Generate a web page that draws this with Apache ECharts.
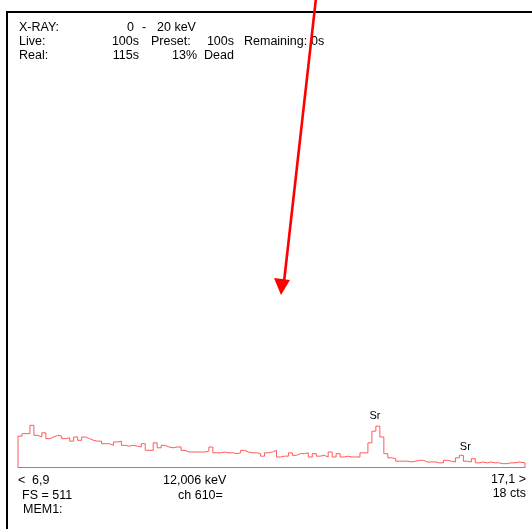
<!DOCTYPE html>
<html>
<head>
<meta charset="utf-8">
<script src="https://cdn.jsdelivr.net/npm/echarts@6/dist/echarts.min.js"></script>
<style>
html,body{margin:0;padding:0;background:#fff;}
#c{width:532px;height:529px;}
</style>
</head>
<body>
<div id="c"></div>
<script>
// ---- data ----
const xMin = 6.9;          // keV, left end of display
const xMax = 17.1;         // keV, right end of display
const binWidth = 0.08;     // keV per displayed bin
const fullScale = 511;     // FS counts
const counts = [
  37,40,40,50,38,36,41,34,36,38,
  37,34,35,31,36,32,36,34,32,31,
  31,28,28,26,30,31,26,25,26,25,
  24,28,20,20,29,23,26,24,23,24,
  24,20,18,18,18,18,18,19,24,17,
  17,18,17,17,16,17,20,18,17,17,
  16,13,17,18,20,12,13,13,17,14,
  16,16,17,12,16,13,14,12,18,12,
  16,12,13,12,12,12,17,17,29,43,
  49,36,16,11,10,7,7,7,6,7,
  8,8,6,6,6,5,5,8,7,6,
  11,14,7,6,10,5,6,5,6,5,
  5,4,4,5,5,6,5
];
const peakLabels = ['Sr', 'Sr'];
const peakEnergies = [14.08, 15.90];
const peakCounts = [49, 11];
const header = {
  mode: 'X-RAY:', rangeLo: '0', rangeHi: '20 keV',
  live: '100s', preset: '100s', remaining: '0s',
  real: '115s', dead: '13%'
};
const footer = {
  cursor: '12,006 keV', fs: 'FS = 511', ch: 'ch 610=', cts: '18 cts', mem: 'MEM1:'
};

// ---- build ----
const spec = [[xMin, 0]];
counts.forEach((c, i) => spec.push([+(xMin + i * binWidth).toFixed(3), c]));
spec.push([xMax, 0]);

const red = '#ff5a5a';
const font = '"Liberation Sans", Arial, sans-serif';
const fs = 12.5;
function t(text, x, y, align) {
  return {type: 'text', x: x, y: y, z: 50,
    style: {text: text, fill: '#000', font: fs + 'px ' + font, align: align || 'left', verticalAlign: 'middle'}};
}
const comma = v => String(v).replace('.', ',');

const chart = echarts.init(document.getElementById('c'), null, {renderer: 'canvas'});
chart.setOption({
  backgroundColor: '#fff',
  animation: false,
  grid: {left: 18, right: 7, top: 41, bottom: 62},
  xAxis: {
    type: 'value', min: xMin, max: xMax,
    axisLine: {show: true, onZero: false, lineStyle: {color: red, width: 1}},
    axisTick: {show: false}, axisLabel: {show: false}, splitLine: {show: false}
  },
  yAxis: {type: 'value', min: 0, max: fullScale, show: false, splitLine: {show: false}},
  series: [{
    type: 'line', step: 'end', symbol: 'none', data: spec,
    lineStyle: {color: red, width: 1},
    markPoint: {
      symbol: 'circle', symbolSize: 0,
      label: {show: true, position: 'top', distance: 5, color: '#000', fontSize: 11, fontFamily: font,
        formatter: p => p.name},
      data: peakLabels.map((n, i) => ({name: n, coord: [peakEnergies[i], peakCounts[i]]}))
    }
  }],
  graphic: [
    // frame
    {type: 'line', z: 40, shape: {x1: 7, y1: 12, x2: 532, y2: 12}, style: {stroke: '#000', lineWidth: 2}},
    {type: 'line', z: 40, shape: {x1: 7, y1: 11, x2: 7, y2: 529}, style: {stroke: '#000', lineWidth: 2}},
    // header
    t(header.mode, 19, 28),
    t(header.rangeLo, 127, 28),
    t('-', 142, 28),
    t(header.rangeHi, 157, 28),
    t('Live:', 19, 42),
    t(header.live, 139, 42, 'right'),
    t('Preset:', 151, 42),
    t(header.preset, 234, 42, 'right'),
    t('Remaining:', 244, 42),
    t(header.remaining, 311, 42),
    t('Real:', 19, 56),
    t(header.real, 139, 56, 'right'),
    t(header.dead, 197, 56, 'right'),
    t('Dead', 204, 56),
    // footer
    t('<', 18, 481),
    t(comma(xMin), 32, 481),
    t(footer.cursor, 163, 481),
    t(comma(xMax) + ' >', 526, 480, 'right'),
    t(footer.fs, 22, 496),
    t(footer.ch, 178, 496),
    t(footer.cts, 526, 494, 'right'),
    t(footer.mem, 23, 510),
    // red arrow
    {type: 'line', z: 60, shape: {x1: 316, y1: -2, x2: 284, y2: 282}, style: {stroke: '#ff0000', lineWidth: 2.6}},
    {type: 'polygon', z: 60, shape: {points: [[274, 278], [290, 280], [281, 295]]}, style: {fill: '#ff0000'}}
  ]
});
</script>
</body>
</html>
